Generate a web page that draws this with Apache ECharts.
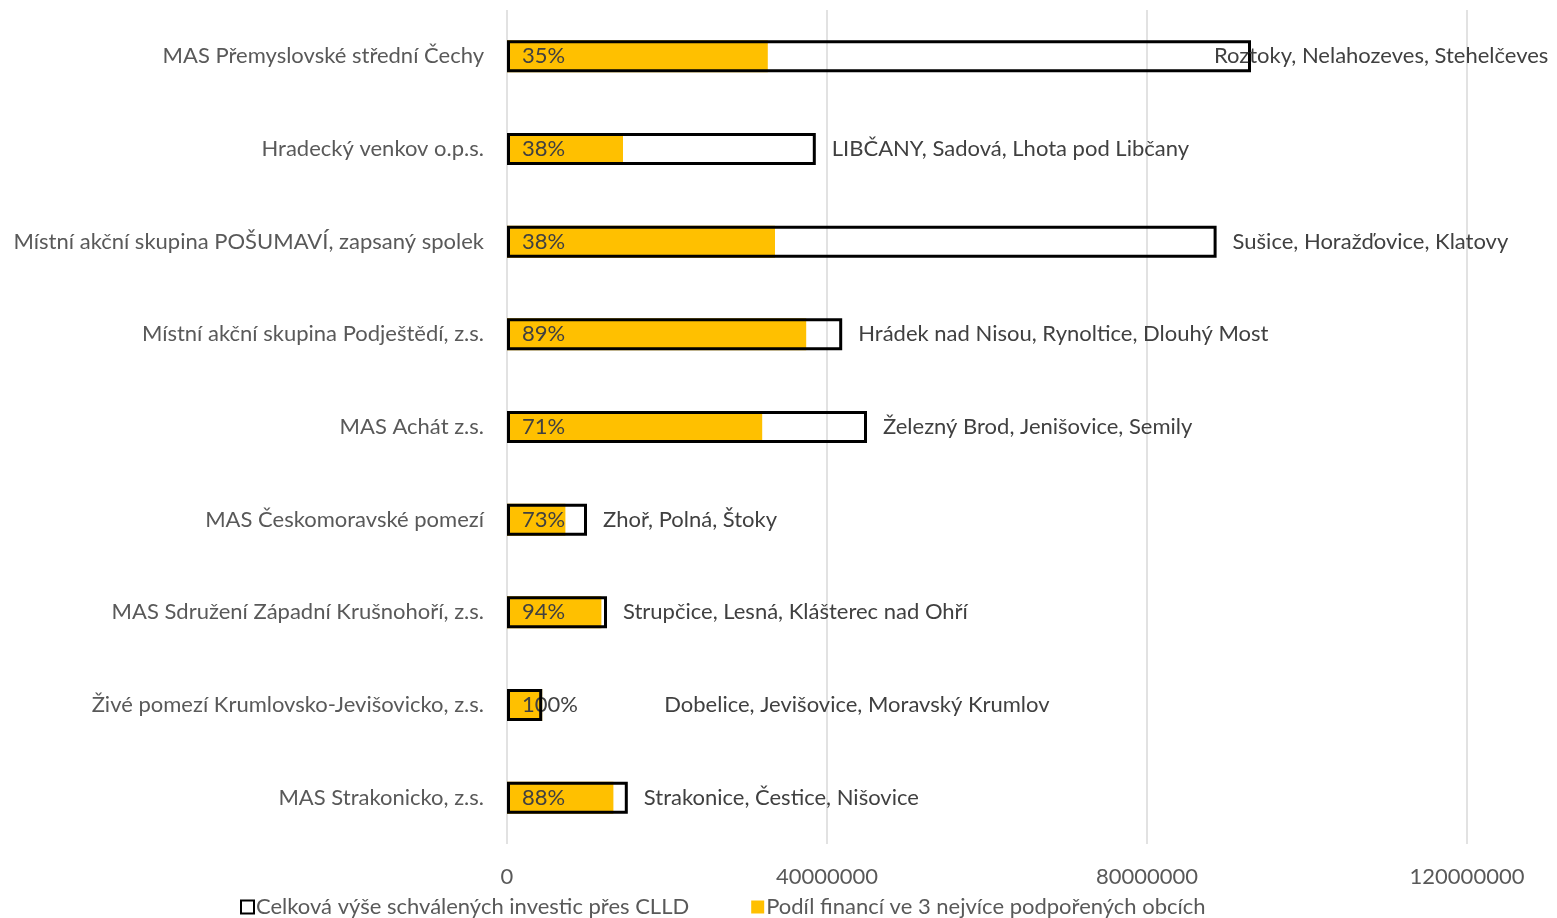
<!DOCTYPE html>
<html>
<head>
<meta charset="utf-8">
<script src="https://cdn.jsdelivr.net/npm/echarts@6/dist/echarts.min.js"></script>
<style>
  html, body { margin: 0; padding: 0; background: #fff; }
  #chart { width: 1557px; height: 918px; }
</style>
</head>
<body>
<div id="chart"></div>
<script>
// data
const categories = [
  'MAS Přemyslovské střední Čechy',
  'Hradecký venkov o.p.s.',
  'Místní akční skupina POŠUMAVÍ, zapsaný spolek',
  'Místní akční skupina Podještědí, z.s.',
  'MAS Achát z.s.',
  'MAS Českomoravské pomezí',
  'MAS Sdružení Západní Krušnohoří, z.s.',
  'Živé pomezí Krumlovsko-Jevišovicko, z.s.',
  'MAS Strakonicko, z.s.'
]
const totalValues = [93000000, 38600000, 88700000, 41900000, 45000000, 10000000, 12500000, 4400000, 15100000]
const shareValues = [32600000, 14500000, 33500000, 37400000, 31900000, 7300000, 11800000, 4400000, 13300000]
const shareLabels = ['35%', '38%', '38%', '89%', '71%', '73%', '94%', '100%', '88%']
const townLabels = [
  'Roztoky, Nelahozeves, Stehelčeves',
  'LIBČANY, Sadová, Lhota pod Libčany',
  'Sušice, Horažďovice, Klatovy',
  'Hrádek nad Nisou, Rynoltice, Dlouhý Most',
  'Železný Brod, Jenišovice, Semily',
  'Zhoř, Polná, Štoky',
  'Strupčice, Lesná, Klášterec nad Ohří',
  'Dobelice, Jevišovice, Moravský Krumlov',
  'Strakonice, Čestice, Nišovice'
]
const seriesNames = ['Celková výše schválených investic přes CLLD', 'Podíl financí ve 3 nejvíce podpořených obcích']

const font = 'Lato, "Noto Sans", sans-serif'
const textColor = '#595959'
const fontSize = 22

const chart = echarts.init(document.getElementById('chart'))

// a couple of labels were moved by hand in the original
const townData = totalValues.map(function (v, i) {
  const item = { value: v }
  if (i === 0) item.label = { offset: [-53, 0] }
  if (i === 7) item.label = { offset: [106, 0] }
  return item
})

const option = {
  backgroundColor: '#ffffff',
  animation: false,
  textStyle: { fontFamily: font },
  grid: { left: 507, right: 90, top: 10, bottom: 74, containLabel: false },
  legend: {
    data: seriesNames,
    icon: 'rect',
    left: 235,
    bottom: -5,
    itemWidth: 13,
    itemHeight: 13,
    itemGap: 62,
    textStyle: { fontFamily: font, fontSize: fontSize, color: textColor, padding: [0, 0, 0, -3] }
  },
  xAxis: {
    type: 'value',
    min: 0,
    max: 120000000,
    interval: 40000000,
    axisLine: { show: false },
    axisTick: { show: false },
    splitLine: { lineStyle: { color: '#d9d9d9', width: 1.5 } },
    axisLabel: {
      fontFamily: font, fontSize: fontSize, color: textColor, margin: 22,
      formatter: function (v) { return String(v) }
    }
  },
  yAxis: {
    type: 'category',
    data: categories,
    inverse: true,
    axisLine: { show: false },
    axisTick: { show: false },
    axisLabel: { fontFamily: font, fontSize: fontSize, color: textColor, margin: 23 }
  },
  series: [
    {
      name: seriesNames[0],
      type: 'bar',
      data: townData,
      barWidth: 32,
      barGap: '-100%',
      z: 3,
      itemStyle: { color: 'rgba(255,255,255,0)', borderColor: '#000000', borderWidth: 3 },
      label: {
        show: true,
        position: 'right',
        distance: 16,
        fontFamily: font,
        fontSize: fontSize,
        color: '#404040',
        formatter: function (p) { return townLabels[p.dataIndex] }
      }
    },
    {
      name: seriesNames[1],
      type: 'bar',
      data: shareValues,
      barWidth: 32,
      barGap: '-100%',
      z: 2,
      itemStyle: { color: '#FFC000' },
      label: {
        show: true,
        position: 'insideLeft',
        distance: 15,
        fontFamily: font,
        fontSize: fontSize,
        color: '#404040',
        formatter: function (p) { return shareLabels[p.dataIndex] }
      }
    }
  ]
}

chart.setOption(option)
</script>
</body>
</html>
